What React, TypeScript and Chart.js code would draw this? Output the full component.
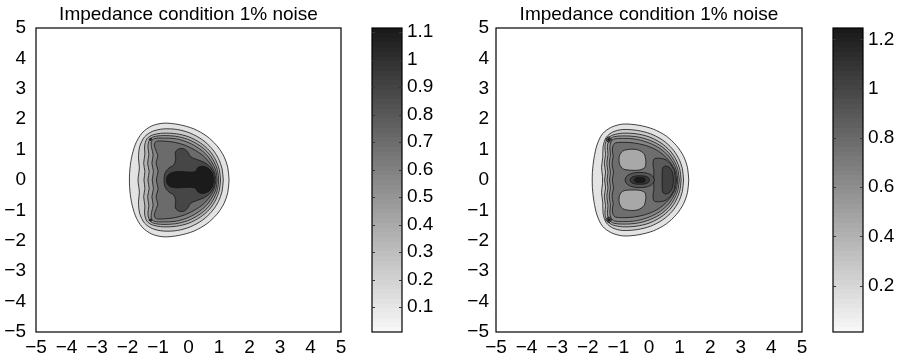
import React, { useEffect, useRef } from 'react';
import { Chart, registerables } from 'chart.js';

Chart.register(...registerables);

const FONT = "'Liberation Sans', Arial, Helvetica, sans-serif";
Chart.defaults.font.family = FONT;
Chart.defaults.color = '#000';

type Pt = [number, number];

// ---------- text & ticks ----------
const TITLE = 'Impedance condition 1% noise';
const axisTickValues = [-5, -4, -3, -2, -1, 0, 1, 2, 3, 4, 5];
const axisTickLabels = ['\u22125', '\u22124', '\u22123', '\u22122', '\u22121', '0', '1', '2', '3', '4', '5'];

const leftBarRange = [0.01, 1.115];
const leftBarTicks = [0.1, 0.2, 0.3, 0.4, 0.5, 0.6, 0.7, 0.8, 0.9, 1.0, 1.1];
const leftBarLabels = ['0.1', '0.2', '0.3', '0.4', '0.5', '0.6', '0.7', '0.8', '0.9', '1', '1.1'];

const rightBarRange = [0.012, 1.246];
const rightBarTicks = [0.2, 0.4, 0.6, 0.8, 1.0, 1.2];
const rightBarLabels = ['0.2', '0.4', '0.6', '0.8', '1', '1.2'];

// ---------- left panel contours (outer -> inner) ----------
const leftLevel1: Pt[] = [[1.33,0],[1.29,0.40],[1.16,0.78],[0.93,1.13],[0.60,1.44],[0.18,1.68],[-0.30,1.82],[-0.80,1.87],[-1.20,1.78],[-1.52,1.55],[-1.74,1.18],[-1.87,0.72],[-1.93,0.25],[-1.93,-0.25],[-1.87,-0.72],[-1.74,-1.18],[-1.52,-1.55],[-1.20,-1.78],[-0.80,-1.87],[-0.30,-1.82],[0.18,-1.68],[0.60,-1.44],[0.93,-1.13],[1.16,-0.78],[1.29,-0.40]];
const leftLevel2: Pt[] = [[1.14,0],[1.10,0.37],[0.98,0.71],[0.77,1.03],[0.46,1.32],[0.06,1.54],[-0.36,1.66],[-0.82,1.68],[-1.18,1.60],[-1.44,1.42],[-1.60,1.10],[-1.64,0.72],[-1.61,0.40],[-1.65,0.08],[-1.65,-0.08],[-1.61,-0.40],[-1.64,-0.72],[-1.60,-1.10],[-1.44,-1.42],[-1.18,-1.60],[-0.82,-1.68],[-0.36,-1.66],[0.06,-1.54],[0.46,-1.32],[0.77,-1.03],[0.98,-0.71],[1.10,-0.37]];
const leftLevel3: Pt[] = [[1.05,0],[1.01,0.34],[0.89,0.66],[0.69,0.96],[0.39,1.22],[0.01,1.42],[-0.40,1.52],[-0.84,1.54],[-1.18,1.48],[-1.36,1.36],[-1.44,1.12],[-1.43,0.85],[-1.47,0.55],[-1.43,0.28],[-1.46,0],[-1.43,-0.28],[-1.47,-0.55],[-1.43,-0.85],[-1.44,-1.12],[-1.36,-1.36],[-1.18,-1.48],[-0.84,-1.54],[-0.40,-1.52],[0.01,-1.42],[0.39,-1.22],[0.69,-0.96],[0.89,-0.66],[1.01,-0.34]];
const leftLevel4: Pt[] = [[0.99,0],[0.95,0.32],[0.83,0.62],[0.63,0.91],[0.34,1.15],[-0.03,1.34],[-0.43,1.44],[-0.84,1.46],[-1.15,1.42],[-1.28,1.32],[-1.33,1.10],[-1.30,0.84],[-1.34,0.55],[-1.29,0.28],[-1.33,0],[-1.29,-0.28],[-1.34,-0.55],[-1.30,-0.84],[-1.33,-1.10],[-1.28,-1.32],[-1.15,-1.42],[-0.84,-1.46],[-0.43,-1.44],[-0.03,-1.34],[0.34,-1.15],[0.63,-0.91],[0.83,-0.62],[0.95,-0.32]];
const leftLevel5: Pt[] = [[0.94,0],[0.90,0.30],[0.77,0.58],[0.57,0.85],[0.28,1.08],[-0.07,1.26],[-0.44,1.36],[-0.83,1.38],[-1.12,1.36],[-1.22,1.26],[-1.21,1.06],[-1.16,0.82],[-1.20,0.55],[-1.15,0.28],[-1.19,0],[-1.15,-0.28],[-1.20,-0.55],[-1.16,-0.82],[-1.21,-1.06],[-1.22,-1.26],[-1.12,-1.36],[-0.83,-1.38],[-0.44,-1.36],[-0.07,-1.26],[0.28,-1.08],[0.57,-0.85],[0.77,-0.58],[0.90,-0.30]];
const leftLevel6: Pt[] = [[0.90,0],[0.85,0.28],[0.71,0.54],[0.50,0.78],[0.22,0.98],[-0.10,1.14],[-0.45,1.24],[-0.82,1.28],[-1.06,1.27],[-1.12,1.16],[-1.07,0.98],[-1.01,0.80],[-1.06,0.55],[-1.00,0.30],[-1.05,0],[-1.00,-0.30],[-1.06,-0.55],[-1.01,-0.80],[-1.07,-0.98],[-1.12,-1.16],[-1.06,-1.27],[-0.82,-1.28],[-0.45,-1.24],[-0.10,-1.14],[0.22,-0.98],[0.50,-0.78],[0.71,-0.54],[0.85,-0.28]];
const leftLevel7: Pt[] = [[0.86,0],[0.83,0.22],[0.72,0.42],[0.52,0.58],[0.26,0.68],[0.08,0.76],[-0.04,0.94],[-0.16,1.03],[-0.32,1.02],[-0.43,0.92],[-0.42,0.70],[-0.48,0.50],[-0.66,0.38],[-0.78,0.20],[-0.80,0],[-0.78,-0.20],[-0.66,-0.38],[-0.48,-0.50],[-0.42,-0.70],[-0.43,-0.92],[-0.32,-1.02],[-0.16,-1.03],[-0.04,-0.94],[0.08,-0.76],[0.26,-0.68],[0.52,-0.58],[0.72,-0.42],[0.83,-0.22]];
const leftLevel8: Pt[] = [[0.82,0],[0.79,0.20],[0.68,0.36],[0.50,0.45],[0.32,0.42],[0.22,0.28],[0.02,0.26],[-0.35,0.28],[-0.60,0.22],[-0.71,0.10],[-0.71,-0.10],[-0.60,-0.22],[-0.35,-0.26],[0.02,-0.24],[0.22,-0.27],[0.32,-0.40],[0.50,-0.44],[0.68,-0.36],[0.79,-0.20]];
const leftSpotUpper: Pt[] = [[-1.19,1.34],[-1.24,1.38],[-1.29,1.34],[-1.24,1.30]];
const leftSpotLower: Pt[] = [[-1.19,-1.32],[-1.24,-1.28],[-1.29,-1.32],[-1.24,-1.36]];

const leftContours = [leftLevel1, leftLevel2, leftLevel3, leftLevel4, leftLevel5, leftLevel6, leftLevel7, leftLevel8, leftSpotUpper, leftSpotLower];
const leftFills = ['#e3e3e3', '#cbcbcb', '#b3b3b3', '#9b9b9b', '#838383', '#6b6b6b', '#464646', '#1b1b1b', '#2a2a2a', '#2a2a2a'];

// ---------- right panel contours (outer -> inner) ----------
const rightLevel1: Pt[] = [[1.30,0],[1.26,0.40],[1.13,0.78],[0.90,1.13],[0.57,1.44],[0.15,1.67],[-0.33,1.80],[-0.84,1.84],[-1.22,1.74],[-1.52,1.52],[-1.70,1.15],[-1.80,0.70],[-1.85,0.25],[-1.85,-0.25],[-1.80,-0.70],[-1.70,-1.15],[-1.52,-1.52],[-1.22,-1.74],[-0.84,-1.84],[-0.33,-1.80],[0.15,-1.67],[0.57,-1.44],[0.90,-1.13],[1.13,-0.78],[1.26,-0.40]];
const rightLevel2: Pt[] = [[1.13,0],[1.09,0.37],[0.97,0.71],[0.76,1.03],[0.45,1.31],[0.05,1.52],[-0.38,1.63],[-0.86,1.66],[-1.18,1.58],[-1.40,1.40],[-1.50,1.10],[-1.51,0.75],[-1.55,0.42],[-1.52,0.12],[-1.52,-0.12],[-1.55,-0.42],[-1.51,-0.75],[-1.50,-1.10],[-1.40,-1.40],[-1.18,-1.58],[-0.86,-1.66],[-0.38,-1.63],[0.05,-1.52],[0.45,-1.31],[0.76,-1.03],[0.97,-0.71],[1.09,-0.37]];
const rightLevel3: Pt[] = [[1.05,0],[1.01,0.34],[0.89,0.66],[0.69,0.96],[0.39,1.22],[0.00,1.42],[-0.42,1.52],[-0.86,1.54],[-1.18,1.48],[-1.36,1.36],[-1.44,1.12],[-1.42,0.84],[-1.46,0.54],[-1.42,0.26],[-1.45,0],[-1.42,-0.26],[-1.46,-0.54],[-1.42,-0.84],[-1.44,-1.12],[-1.36,-1.36],[-1.18,-1.48],[-0.86,-1.54],[-0.42,-1.52],[0.00,-1.42],[0.39,-1.22],[0.69,-0.96],[0.89,-0.66],[1.01,-0.34]];
const rightLevel4: Pt[] = [[0.99,0],[0.95,0.32],[0.83,0.62],[0.63,0.91],[0.34,1.15],[-0.04,1.33],[-0.45,1.43],[-0.86,1.45],[-1.16,1.42],[-1.30,1.32],[-1.36,1.10],[-1.34,0.84],[-1.38,0.54],[-1.34,0.26],[-1.37,0],[-1.34,-0.26],[-1.38,-0.54],[-1.34,-0.84],[-1.36,-1.10],[-1.30,-1.32],[-1.16,-1.42],[-0.86,-1.45],[-0.45,-1.43],[-0.04,-1.33],[0.34,-1.15],[0.63,-0.91],[0.83,-0.62],[0.95,-0.32]];
const rightLevel5: Pt[] = [[0.94,0],[0.90,0.30],[0.78,0.58],[0.58,0.85],[0.29,1.08],[-0.08,1.25],[-0.48,1.35],[-0.86,1.37],[-1.14,1.35],[-1.24,1.26],[-1.28,1.06],[-1.26,0.82],[-1.30,0.54],[-1.26,0.26],[-1.29,0],[-1.26,-0.26],[-1.30,-0.54],[-1.26,-0.82],[-1.28,-1.06],[-1.24,-1.26],[-1.14,-1.35],[-0.86,-1.37],[-0.48,-1.35],[-0.08,-1.25],[0.29,-1.08],[0.58,-0.85],[0.78,-0.58],[0.90,-0.30]];
const rightLevel6: Pt[] = [[0.90,0],[0.86,0.28],[0.73,0.54],[0.52,0.78],[0.24,0.99],[-0.12,1.14],[-0.50,1.22],[-0.86,1.24],[-1.10,1.22],[-1.17,1.14],[-1.20,0.98],[-1.17,0.78],[-1.21,0.52],[-1.16,0.26],[-1.20,0],[-1.16,-0.26],[-1.21,-0.52],[-1.17,-0.78],[-1.20,-0.98],[-1.17,-1.14],[-1.10,-1.22],[-0.86,-1.24],[-0.50,-1.22],[-0.12,-1.14],[0.24,-0.99],[0.52,-0.78],[0.73,-0.54],[0.86,-0.28]];
const rightBlobUpper: Pt[] = [[-0.10,0.62],[-0.16,0.86],[-0.36,0.99],[-0.62,1.01],[-0.86,0.95],[-0.97,0.78],[-0.96,0.52],[-0.84,0.36],[-0.58,0.32],[-0.30,0.33],[-0.13,0.42]];
const rightBlobLower: Pt[] = [[-0.10,-0.60],[-0.13,-0.42],[-0.30,-0.34],[-0.58,-0.33],[-0.84,-0.36],[-0.96,-0.50],[-0.97,-0.76],[-0.86,-0.94],[-0.62,-1.00],[-0.36,-0.98],[-0.16,-0.84]];
const rightLevel7: Pt[] = [[0.86,0],[0.83,0.28],[0.72,0.50],[0.56,0.66],[0.38,0.71],[0.18,0.70],[0.13,0.55],[0.16,0.30],[0.15,0],[0.16,-0.30],[0.13,-0.55],[0.18,-0.70],[0.38,-0.71],[0.56,-0.66],[0.72,-0.50],[0.83,-0.28]];
const rightLevel8: Pt[] = [[0.80,0],[0.77,0.24],[0.68,0.40],[0.54,0.46],[0.45,0.40],[0.43,0.20],[0.43,0],[0.43,-0.20],[0.45,-0.40],[0.54,-0.46],[0.68,-0.40],[0.77,-0.24]];
const rightPeakRing1: Pt[] = [[0.18,0],[0.12,0.13],[-0.05,0.22],[-0.30,0.25],[-0.55,0.22],[-0.72,0.13],[-0.78,0],[-0.72,-0.13],[-0.55,-0.22],[-0.30,-0.25],[-0.05,-0.22],[0.12,-0.13]];
const rightPeakRing2: Pt[] = [[0.02,0],[-0.02,0.08],[-0.14,0.13],[-0.30,0.14],[-0.46,0.13],[-0.58,0.08],[-0.62,0],[-0.58,-0.08],[-0.46,-0.13],[-0.30,-0.14],[-0.14,-0.13],[-0.02,-0.08]];
const rightPeakCore: Pt[] = [[-0.12,0],[-0.15,0.055],[-0.22,0.08],[-0.30,0.085],[-0.38,0.08],[-0.45,0.055],[-0.48,0],[-0.45,-0.055],[-0.38,-0.08],[-0.30,-0.085],[-0.22,-0.08],[-0.15,-0.055]];
const rightSpotUpperRing: Pt[] = [[-1.21,1.33],[-1.31,1.42],[-1.41,1.33],[-1.31,1.24]];
const rightSpotUpperCore: Pt[] = [[-1.27,1.33],[-1.31,1.37],[-1.35,1.33],[-1.31,1.29]];
const rightSpotLowerRing: Pt[] = [[-1.21,-1.31],[-1.31,-1.22],[-1.41,-1.31],[-1.31,-1.40]];
const rightSpotLowerCore: Pt[] = [[-1.27,-1.31],[-1.31,-1.27],[-1.35,-1.31],[-1.31,-1.35]];

const rightContours = [rightLevel1, rightLevel2, rightLevel3, rightLevel4, rightLevel5, rightLevel6, rightBlobUpper, rightBlobLower, rightLevel7, rightLevel8, rightPeakRing1, rightPeakRing2, rightPeakCore, rightSpotUpperRing, rightSpotUpperCore, rightSpotLowerRing, rightSpotLowerCore];
const rightFills = ['#e3e3e3', '#cbcbcb', '#b4b4b4', '#9d9d9d', '#868686', '#6e6e6e', '#a8a8a8', '#a8a8a8', '#5a5a5a', '#404040', '#575757', '#383838', '#1a1a1a', '#555555', '#222222', '#555555', '#222222'];

// ---------- plugins ----------
const framePlugin = {
  id: 'frame',
  afterDraw(chart: any) {
    const { ctx, chartArea: a } = chart;
    ctx.save();
    ctx.strokeStyle = '#000';
    ctx.lineWidth = 1.2;
    ctx.strokeRect(a.left, a.top, a.right - a.left, a.bottom - a.top);
    ctx.restore();
  },
};

const barTickPlugin = {
  id: 'barTicks',
  afterDraw(chart: any) {
    const s = chart.scales.y;
    const a = chart.chartArea;
    const ctx = chart.ctx;
    ctx.save();
    ctx.strokeStyle = '#333';
    ctx.lineWidth = 1;
    s.ticks.forEach((t: any) => {
      const y = Math.round(s.getPixelForValue(t.value)) + 0.5;
      ctx.beginPath();
      ctx.moveTo(a.left, y);
      ctx.lineTo(a.left + 3, y);
      ctx.moveTo(a.right - 3, y);
      ctx.lineTo(a.right, y);
      ctx.stroke();
    });
    ctx.restore();
  },
};

const tickFont = { family: FONT, size: 19, weight: 'normal' as const };

function ContourPanel(props: { left: number; width: number; padRight: number; yAxisWidth: number; yPad: number; contours: Pt[][]; fills: string[] }) {
  const ref = useRef<HTMLCanvasElement>(null);
  useEffect(() => {
    const { contours, fills } = props;
    const n = contours.length;
    const datasets = contours.map((poly, i) => ({
      data: [...poly, poly[0]].map(([x, y]) => ({ x, y })),
      showLine: true,
      fill: 'shape',
      backgroundColor: fills[i],
      borderColor: '#151515',
      borderWidth: 0.8,
      pointRadius: 0,
      pointHoverRadius: 0,
      tension: 0.3,
      order: n - i,
    }));
    const chart = new Chart(ref.current as HTMLCanvasElement, {
      type: 'scatter',
      data: { datasets } as any,
      options: {
        animation: false,
        responsive: false,
        devicePixelRatio: 1,
        events: [],
        layout: { padding: { left: 0, right: props.padRight, top: 0, bottom: 0 } },
        plugins: {
          legend: { display: false },
          tooltip: { enabled: false },
          title: {
            display: true,
            text: TITLE,
            fullSize: false,
            color: '#000',
            font: { family: FONT, size: 19, weight: 'normal' },
            padding: { top: 3, bottom: 2.2 },
          },
        },
        scales: {
          x: {
            type: 'linear',
            min: -5,
            max: 5,
            grid: { display: false, drawTicks: false },
            border: { display: false },
            afterBuildTicks: (s: any) => { s.ticks = axisTickValues.map((v) => ({ value: v })); },
            afterFit: (s: any) => { s.height = 29; },
            ticks: {
              autoSkip: false,
              maxRotation: 0,
              padding: 4,
              color: '#000',
              font: tickFont,
              callback: (_v: any, i: number) => axisTickLabels[i],
            },
          },
          y: {
            type: 'linear',
            min: -5,
            max: 5,
            grid: { display: false, drawTicks: false },
            border: { display: false },
            afterBuildTicks: (s: any) => { s.ticks = axisTickValues.map((v) => ({ value: v })); },
            afterFit: (s: any) => { s.width = props.yAxisWidth; },
            ticks: {
              autoSkip: false,
              padding: props.yPad,
              color: '#000',
              font: tickFont,
              callback: (_v: any, i: number) => axisTickLabels[i],
            },
          },
        },
      } as any,
      plugins: [framePlugin],
    });
    return () => chart.destroy();
  }, []);
  return <canvas ref={ref} width={props.width} height={361} style={{ position: 'absolute', left: props.left, top: 0, width: props.width, height: 361 }} />;
}

function ColorBar(props: { left: number; width: number; padLeft: number; barWidth: number; range: number[]; ticks: number[]; labels: string[] }) {
  const ref = useRef<HTMLCanvasElement>(null);
  useEffect(() => {
    const { range, ticks, labels } = props;
    const chart = new Chart(ref.current as HTMLCanvasElement, {
      type: 'bar',
      data: {
        labels: [''],
        datasets: [{
          data: [[range[0], range[1]]],
          borderWidth: 0,
          barPercentage: 1,
          categoryPercentage: 1,
          backgroundColor: (c: any) => {
            const a = c.chart.chartArea;
            if (!a) return '#888';
            const g = c.chart.ctx.createLinearGradient(0, a.bottom, 0, a.top);
            const steps = 64;
            for (let k = 0; k < steps; k++) {
              const gray = Math.round(247 - (247 - 26) * (k / (steps - 1)));
              const col = `rgb(${gray},${gray},${gray})`;
              g.addColorStop(k / steps, col);
              g.addColorStop((k + 1) / steps, col);
            }
            return g;
          },
        }],
      } as any,
      options: {
        animation: false,
        responsive: false,
        devicePixelRatio: 1,
        events: [],
        layout: { padding: { left: props.padLeft, right: 0, top: 28, bottom: 29 } },
        plugins: { legend: { display: false }, tooltip: { enabled: false }, title: { display: false } },
        scales: {
          x: { display: false },
          y: {
            position: 'right',
            min: range[0],
            max: range[1],
            grid: { display: false, drawTicks: false },
            border: { display: false },
            afterBuildTicks: (s: any) => { s.ticks = ticks.map((v) => ({ value: v })); },
            afterFit: (s: any) => { s.width = props.width - props.padLeft - props.barWidth; },
            ticks: {
              padding: 5,
              color: '#000',
              font: tickFont,
              callback: (_v: any, i: number) => labels[i],
            },
          },
        },
      } as any,
      plugins: [framePlugin, barTickPlugin],
    });
    return () => chart.destroy();
  }, []);
  return <canvas ref={ref} width={props.width} height={361} style={{ position: 'absolute', left: props.left, top: 0, width: props.width, height: 361 }} />;
}

export default function App() {
  return (
    <div style={{ position: 'fixed', left: 0, top: 0, width: 903, height: 361, background: '#fff', overflow: 'hidden' }}>
      <ContourPanel left={0} width={360} padRight={19} yAxisWidth={36} yPad={10} contours={leftContours} fills={leftFills} />
      <ColorBar left={360} width={90} padLeft={12} barWidth={30} range={leftBarRange} ticks={leftBarTicks} labels={leftBarLabels} />
      <ContourPanel left={450} width={370} padRight={18} yAxisWidth={46} yPad={7} contours={rightContours} fills={rightFills} />
      <ColorBar left={820} width={83} padLeft={13} barWidth={30} range={rightBarRange} ticks={rightBarTicks} labels={rightBarLabels} />
    </div>
  );
}
